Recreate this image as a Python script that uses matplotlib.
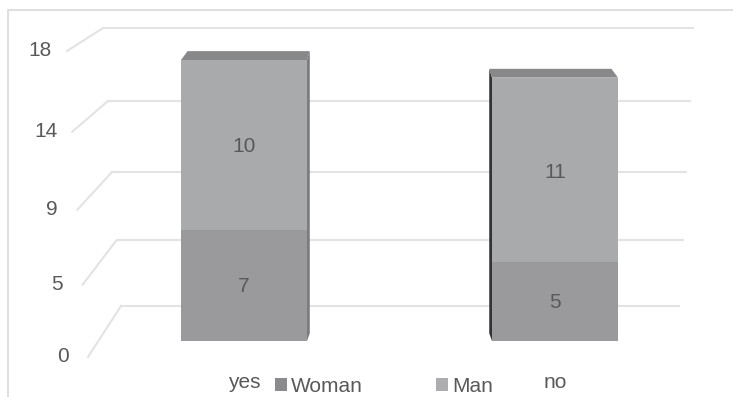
import matplotlib
matplotlib.use("Agg")
import matplotlib.pyplot as plt
import numpy as np
from matplotlib.patches import Polygon, Rectangle
from matplotlib.lines import Line2D

plt.rcParams['font.family'] = ['Liberation Sans', 'DejaVu Sans']

categories = ["yes", "no"]
woman = [7, 5]
man = [10, 11]
series_names = ["Woman", "Man"]
axis_ticks = [0, 4.5, 9, 13.5, 18]
axis_tick_labels = ["0", "5", "9", "14", "18"]

W, H = 733, 397
fig = plt.figure(figsize=(W / 100, H / 100), dpi=100)

def fx(px):
    return px / W

def fy(py):
    return 1 - py / H

def persp(t, c=-0.07):
    # perspective foreshortening of the vertical axis (0..1 -> 0..1)
    return t * (1 + c) / (1 + c * t)

TXT = "#595959"
GRID = "#e3e3e3"
FS = 15

# outer chart-area frame
fig.add_artist(Rectangle((fx(8), fy(H + 5)), 1.1, fy(10) - fy(H + 5),
                         transform=fig.transFigure, fill=False,
                         edgecolor="#d9d9d9", linewidth=1.2, zorder=-2))

# back wall gridlines and floor diagonals (perspective), from tick values
vmax = axis_ticks[-1]
for v, lab in zip(axis_ticks, axis_tick_labels):
    t = v / vmax
    p = persp(t)
    back_y = 306 - p * (306 - 28)
    back_l = 121 - t * (121 - 103)
    back_r = 679 + t * (693 - 679)
    front_y = 357 - p * (357 - 51)
    front_x = 88 - t * (88 - 67)
    fig.add_artist(Line2D([fx(back_l), fx(back_r)], [fy(back_y), fy(back_y)],
                          transform=fig.transFigure, color=GRID, linewidth=1.5, zorder=-1))
    fig.add_artist(Line2D([fx(front_x), fx(back_l)], [fy(front_y), fy(back_y)],
                          transform=fig.transFigure, color=GRID, linewidth=1.5, zorder=-1))
    lab_y = 357 - p * (357 - 50)
    lab_x = 63 - t * (63 - 40)
    fig.text(fx(lab_x), fy(lab_y), lab, ha="center", va="center",
             fontsize=FS, color=TXT)

# main (front plane) axes for the bars, with perspective y scale
ax = fig.add_axes([0, 0, 1, 1])
ax.set_axis_off()
ax.patch.set_alpha(0)
REF = 17.0
CC = -0.067

def fwd(v):
    v = np.asarray(v, dtype=float)
    return v * (1 + CC) / (1 + CC * v / REF)

def inv(u):
    u = np.asarray(u, dtype=float)
    return u / ((1 + CC) - u * CC / REF)

ax.set_yscale('function', functions=(fwd, inv))
px_per_unit = (341 - 60) / REF
lo_t = -(H - 341) / px_per_unit
hi_t = 341 / px_per_unit
ax.set_ylim(float(inv(lo_t)), float(inv(hi_t)))
cx0, spacing = 244, 311
ax.set_xlim(-cx0 / spacing, (W - cx0) / spacing)

xs = list(range(len(categories)))
width = 126 / spacing
c_woman = "#9a9a9c"
c_man = "#a9aaac"
c_top = "#88888a"
ax.bar(xs, woman, width, color=c_woman, zorder=3)
ax.bar(xs, man, width, bottom=woman, color=c_man, zorder=3)

vp = (400 - cx0) / spacing
k = 0.03
dy = 0.5
for x, w_, m_ in zip(xs, woman, man):
    tot = w_ + m_
    l, r = x - width / 2, x + width / 2
    bl, br = l + (vp - l) * k, r + (vp - r) * k
    ax.add_patch(Polygon([(l, tot), (r, tot), (br, tot + dy), (bl, tot + dy)],
                         closed=True, facecolor=c_top, edgecolor="none", zorder=4))
    if r < vp:
        ax.add_patch(Polygon([(r, 0), (r, tot), (br, tot + dy), (br, dy)],
                             closed=True, facecolor="#7c7c7e", edgecolor="none", zorder=2))
    if l > vp:
        ax.add_patch(Polygon([(l, 0), (l, tot), (bl, tot + dy), (bl, dy)],
                             closed=True, facecolor="#333333", edgecolor="none", zorder=2))
    ax.text(x, w_ / 2, str(w_), ha="center", va="center", fontsize=FS, color=TXT, zorder=5)
    ax.text(x, w_ + m_ / 2, str(m_), ha="center", va="center", fontsize=FS, color=TXT, zorder=5)

# category labels
for x, c in zip(xs, categories):
    ax.text(x, fy(383), c, transform=ax.get_xaxis_transform(), ha="center",
            va="center", fontsize=FS, color=TXT)

# legend
handles = [Rectangle((0, 0), 1, 1, facecolor="#8b8b8d", edgecolor="none"),
           Rectangle((0, 0), 1, 1, facecolor="#adadaf", edgecolor="none")]
fig.legend(handles, series_names, loc="center", bbox_to_anchor=(fx(384), fy(386)),
           ncol=2, frameon=False, fontsize=FS, labelcolor=TXT,
           handlelength=0.6, handleheight=0.6, handletextpad=0.2,
           columnspacing=3.5, borderpad=0)

fig.savefig("out.png", dpi=100, facecolor="white")
